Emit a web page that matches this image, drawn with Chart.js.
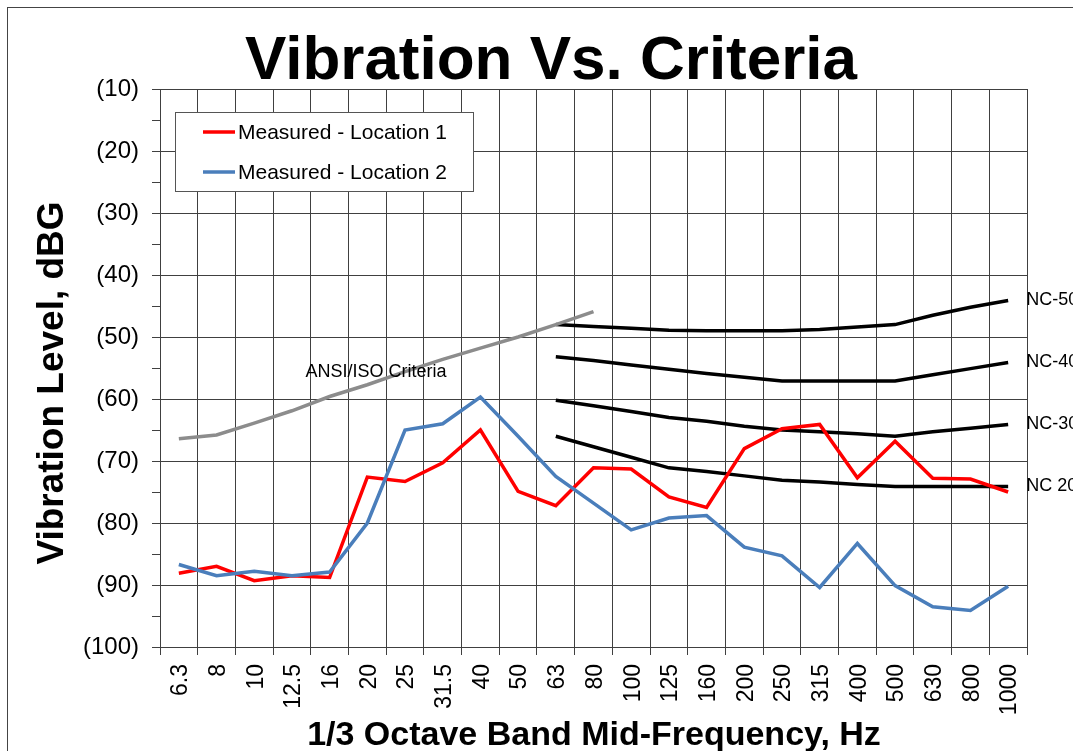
<!DOCTYPE html>
<html>
<head>
<meta charset="utf-8">
<script src="https://cdn.jsdelivr.net/npm/chart.js@4.4.1/dist/chart.umd.min.js"></script>
<style>
  html, body { margin: 0; padding: 0; background: #fff; }
  canvas { display: block; }
</style>
</head>
<body>
<canvas id="chart" width="1073" height="751"></canvas>
<script>
const bands = ['6.3', '8', '10', '12.5', '16', '20', '25', '31.5', '40', '50', '63', '80',
  '100', '125', '160', '200', '250', '315', '400', '500', '630', '800', '1000'];

const location1 = [-88.1, -87.0, -89.3, -88.5, -88.8, -72.6, -73.3, -70.3, -65.0, -74.9, -77.2, -71.1,
  -71.3, -75.8, -77.5, -68.0, -64.8, -64.1, -72.7, -66.8, -72.8, -72.9, -75.0];
const location2 = [-86.7, -88.5, -87.8, -88.5, -87.9, -80.0, -65.0, -64.0, -59.7, -66.0, -72.5, -76.8,
  -81.1, -79.2, -78.8, -83.9, -85.3, -90.4, -83.3, -90.1, -93.5, -94.1, -90.2];

// ANSI/ISO criteria only goes up to 80 Hz
const ansiIso = [-66.4, -65.8, -63.9, -61.9, -59.6, -57.7, -55.6, -53.6, -51.8, -50.0, -48.0, -45.9,
  null, null, null, null, null, null, null, null, null, null, null];

// NC curves start at 63 Hz
const gap = new Array(10).fill(null);
const nc50 = gap.concat([-48.0, -48.3, -48.6, -48.9, -49.0, -49.0, -49.0, -48.8, -48.4, -48.0, -46.5, -45.2, -44.1]);
const nc40 = gap.concat([-53.2, -53.8, -54.5, -55.2, -55.9, -56.5, -57.1, -57.1, -57.1, -57.1, -56.1, -55.1, -54.1]);
const nc30 = gap.concat([-60.2, -61.1, -62.0, -63.0, -63.6, -64.4, -65.0, -65.3, -65.6, -66.0, -65.3, -64.7, -64.1]);
const nc20 = gap.concat([-66.0, -67.7, -69.4, -71.1, -71.7, -72.4, -73.1, -73.4, -73.8, -74.1, -74.1, -74.1, -74.1]);
const ncNames = ['NC-50', 'NC-40', 'NC-30', 'NC 20'];

const FONT = '"Liberation Sans", Arial, sans-serif';
const GRID = '#404040';

function line(label, data, color, order) {
  return {
    label, data, order,
    borderColor: color,
    backgroundColor: color,
    borderWidth: 3.5,
    pointRadius: 0,
    tension: 0,
    fill: false
  };
}

const decor = {
  id: 'decor',
  beforeDraw(chart) {
    const ctx = chart.ctx;
    ctx.save();
    ctx.fillStyle = '#fff';
    ctx.fillRect(0, 0, chart.width, chart.height);
    ctx.strokeStyle = '#444';
    ctx.lineWidth = 1;
    ctx.strokeRect(7.5, 7.5, chart.width + 20, chart.height + 20);
    ctx.restore();
  },
  afterDraw(chart) {
    const { ctx, scales: { x, y } } = chart;
    ctx.save();
    ctx.fillStyle = '#000';

    // title
    ctx.font = 'bold 62px ' + FONT;
    ctx.textAlign = 'center';
    ctx.textBaseline = 'alphabetic';
    ctx.fillText('Vibration Vs. Criteria', 551, 79);

    // axis titles
    ctx.font = 'bold 34px ' + FONT;
    ctx.fillText('1/3 Octave Band Mid-Frequency, Hz', 594, 745);
    ctx.save();
    ctx.font = 'bold 37px ' + FONT;
    ctx.translate(63, 383);
    ctx.rotate(-Math.PI / 2);
    ctx.fillText('Vibration Level, dBG', 0, 0);
    ctx.restore();

    // legend
    ctx.fillStyle = '#fff';
    ctx.fillRect(175.5, 112.5, 298, 79);
    ctx.strokeStyle = '#555';
    ctx.lineWidth = 1;
    ctx.strokeRect(175.5, 112.5, 298, 79);
    const entries = [['Measured - Location 1', '#ff0000', 132], ['Measured - Location 2', '#4a7ebb', 172]];
    ctx.font = '21px ' + FONT;
    ctx.textAlign = 'left';
    entries.forEach(([text, color, cy]) => {
      ctx.strokeStyle = color;
      ctx.lineWidth = 3.5;
      ctx.beginPath();
      ctx.moveTo(203, cy);
      ctx.lineTo(235, cy);
      ctx.stroke();
      ctx.fillStyle = '#000';
      ctx.fillText(text, 238, cy + 7);
    });

    // curve labels
    ctx.font = '18px ' + FONT;
    ctx.textAlign = 'center';
    ctx.fillText('ANSI/ISO Criteria', 376, 377);
    ctx.textAlign = 'left';
    ctx.textBaseline = 'middle';
    const last = bands.length - 1;
    [nc50, nc40, nc30, nc20].forEach((d, i) => {
      ctx.fillText(ncNames[i], x.getPixelForValue(last) + 18, y.getPixelForValue(d[last]));
    });
    ctx.restore();
  }
};

new Chart(document.getElementById('chart'), {
  type: 'line',
  data: {
    labels: bands,
    datasets: [
      line('Measured - Location 2', location2, '#4a7ebb', 0),
      line('Measured - Location 1', location1, '#ff0000', 1),
      line('ANSI/ISO Criteria', ansiIso, '#8c8c8c', 2),
      line('NC-50', nc50, '#000', 3),
      line('NC-40', nc40, '#000', 3),
      line('NC-30', nc30, '#000', 3),
      line('NC 20', nc20, '#000', 3)
    ]
  },
  options: {
    responsive: false,
    devicePixelRatio: 1,
    animation: false,
    layout: { padding: { top: 89, right: 46, left: 0, bottom: 0 } },
    plugins: {
      legend: { display: false },
      title: { display: false },
      tooltip: { enabled: false }
    },
    scales: {
      x: {
        offset: true,
        grid: { offset: true, color: GRID, lineWidth: 1, tickLength: 8 },
        border: { color: GRID },
        ticks: {
          color: '#000',
          font: { family: FONT, size: 23 },
          minRotation: 90,
          maxRotation: 90,
          autoSkip: false,
          padding: 9,
          labelOffset: 2
        },
        afterFit: s => { s.height = 104; }
      },
      y: {
        min: -100,
        max: -10,
        grid: {
          color: c => (c.tick && c.tick.value % 10 === 0) ? GRID : 'rgba(0,0,0,0)',
          tickColor: GRID,
          lineWidth: 1,
          tickLength: 8
        },
        border: { color: GRID },
        ticks: {
          stepSize: 5,
          autoSkip: false,
          color: '#000',
          padding: 13,
          font: { family: FONT, size: 24 },
          callback: v => (v % 10 === 0 ? '(' + (-v) + ')' : '')
        },
        afterFit: s => { s.width = 160; }
      }
    }
  },
  plugins: [decor]
});
</script>
</body>
</html>
